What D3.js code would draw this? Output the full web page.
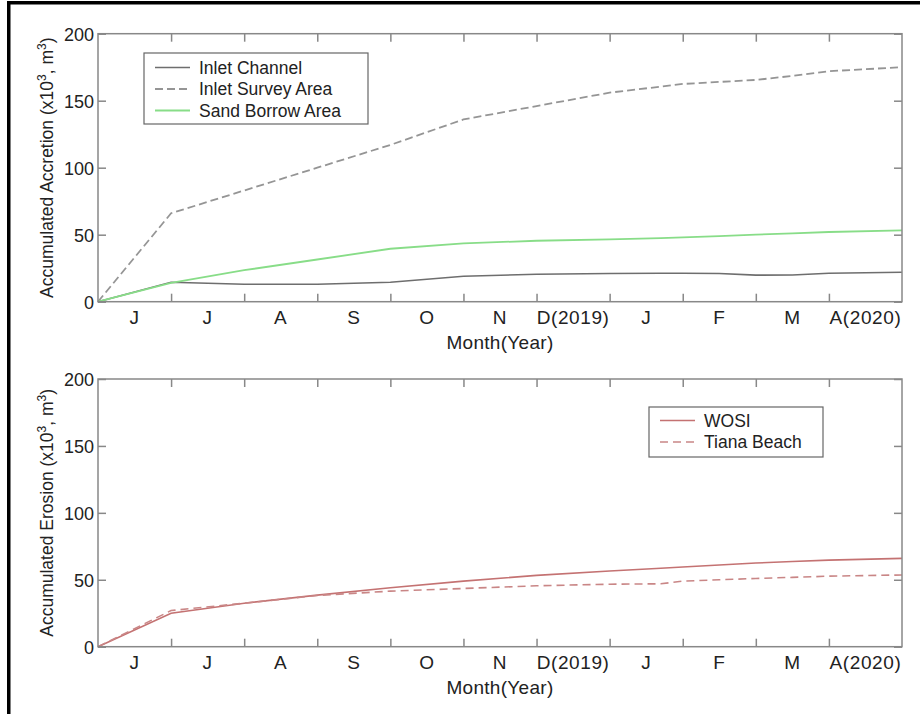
<!DOCTYPE html>
<html>
<head>
<meta charset="utf-8">
<script src="https://cdnjs.cloudflare.com/ajax/libs/d3/7.8.5/d3.min.js"></script>
<style>
body { margin: 0; background: #fff; }
text { font-family: "Liberation Sans", Arial, sans-serif; fill: #222; }
</style>
</head>
<body>
<div id="chart"></div>
<script>
// month labels (centred in each month), tick marks sit on month boundaries
var monthLabels = ["J", "J", "A", "S", "O", "N", "D(2019)", "J", "F", "M", "A(2020)"];
var yTicks = [0, 50, 100, 150, 200];

// survey times, in months since start of June 2019
var surveyT = [0, 1, 2, 3, 4, 5, 6, 7, 7.7, 8, 8.5, 9, 9.5, 10, 11];

// accretion (x10^3 m^3)
var inletChannel = [0, 14.5, 13, 13, 14.5, 19, 20.5, 21, 21.2, 21.2, 21, 19.8, 19.9, 21.2, 22];
var inletSurvey  = [0, 66, 83, 100, 117, 136, 146, 156, 160.5, 162.5, 164, 165.5, 168.5, 172, 175];
var sandBorrow   = [0, 14, 23.5, 31.5, 39.5, 43.5, 45.5, 46.5, 47.5, 48, 49, 50, 51, 52, 53.3];

// erosion (x10^3 m^3)
var wosi        = [0, 25, 32.5, 38.5, 44, 49, 53.3, 56.5, 58.6, 59.5, 61, 62.5, 63.6, 64.7, 66];
var tianaBeach  = [0, 27, 32.5, 38.3, 41.5, 43.5, 45.5, 46.7, 47, 49, 50, 51, 51.8, 52.7, 53.6];

var width = 920, height = 714;

var svg = d3.select("#chart").append("svg")
	.attr("width", width)
	.attr("height", height);

svg.append("rect").attr("width", width).attr("height", height).attr("fill", "#fff");

// frame (top + left only visible)
svg.append("rect").attr("x", 7).attr("y", 1).attr("width", 913).attr("height", 3.5).attr("fill", "#000");
svg.append("rect").attr("x", 7).attr("y", 1).attr("width", 3.5).attr("height", 713).attr("fill", "#000");

var x = d3.scaleLinear().domain([0, 11]).range([98, 902]);

function panel(top, bottom, yLabel, series, legend) {
	var y = d3.scaleLinear().domain([0, 200]).range([bottom, top]);
	var g = svg.append("g");
	var axisColor = "#888";

	var line = d3.line()
		.x(function(d, i) { return x(surveyT[i]); })
		.y(function(d) { return y(d); });

	series.forEach(function(s) {
		g.append("path")
			.datum(s.values)
			.attr("d", line)
			.attr("fill", "none")
			.attr("stroke", s.color)
			.attr("stroke-width", s.width)
			.attr("stroke-dasharray", s.dash);
	});

	// box
	g.append("rect")
		.attr("x", x(0)).attr("y", top)
		.attr("width", x(11) - x(0)).attr("height", bottom - top)
		.attr("fill", "none").attr("stroke", axisColor).attr("stroke-width", 1.5);

	var inner = d3.range(1, 11);
	var bx = g.append("g").attr("transform", "translate(0," + bottom + ")")
		.call(d3.axisBottom(x).tickValues(inner).tickSizeInner(-8).tickSizeOuter(0).tickFormat(""));
	var tx = g.append("g").attr("transform", "translate(0," + top + ")")
		.call(d3.axisTop(x).tickValues(inner).tickSizeInner(-8).tickSizeOuter(0).tickFormat(""));
	var ly = g.append("g").attr("transform", "translate(" + x(0) + ",0)")
		.call(d3.axisLeft(y).tickValues(yTicks).tickSizeInner(-8).tickSizeOuter(0).tickPadding(4));
	var ry = g.append("g").attr("transform", "translate(" + x(11) + ",0)")
		.call(d3.axisRight(y).tickValues(yTicks).tickSizeInner(-8).tickSizeOuter(0).tickFormat(""));

	[bx, tx, ly, ry].forEach(function(a) {
		a.select(".domain").remove();
		a.selectAll("line").attr("stroke", axisColor).attr("stroke-width", 1.5);
	});
	ly.selectAll("text")
		.attr("font-size", 18)
		.attr("font-family", "Liberation Sans, Arial, sans-serif")
		.attr("fill", "#222")
		.attr("dy", "0.36em");

	// month labels in the middle of each month
	g.selectAll("text.month")
		.data(monthLabels)
		.enter()
		.append("text")
		.attr("class", "month")
		.attr("x", function(d, i) { return x(i + 0.5); })
		.attr("y", bottom + 22.5)
		.attr("text-anchor", "middle")
		.attr("font-size", 19)
		.attr("letter-spacing", 0.6)
		.text(function(d) { return d; });

	g.append("text")
		.attr("x", (x(0) + x(11)) / 2)
		.attr("y", bottom + 47)
		.attr("text-anchor", "middle")
		.attr("font-size", 19)
		.attr("letter-spacing", 0.3)
		.text("Month(Year)");

	var yl = g.append("text")
		.attr("transform", "translate(53," + ((top + bottom) / 2) + ") rotate(-90)")
		.attr("text-anchor", "middle")
		.attr("font-size", 17.5);
	yl.append("tspan").text(yLabel + " (x10");
	yl.append("tspan").attr("font-size", 12).attr("dy", -7).text("3");
	yl.append("tspan").attr("dy", 7).text(", m");
	yl.append("tspan").attr("font-size", 12).attr("dy", -7).text("3");
	yl.append("tspan").attr("dy", 7).text(")");

	// legend
	var lg = g.append("g");
	lg.append("rect")
		.attr("x", legend.x).attr("y", legend.y)
		.attr("width", legend.w).attr("height", legend.h)
		.attr("fill", "#fff").attr("stroke", "#666").attr("stroke-width", 1.2);
	series.forEach(function(s, i) {
		var cy = legend.y + legend.first + i * legend.step;
		lg.append("line")
			.attr("x1", legend.x + 11).attr("x2", legend.x + 46)
			.attr("y1", cy).attr("y2", cy)
			.attr("stroke", s.color).attr("stroke-width", s.width)
			.attr("stroke-dasharray", s.dash);
		lg.append("text")
			.attr("x", legend.x + 55).attr("y", cy)
			.attr("dy", "0.36em")
			.attr("font-size", 17.5)
			.text(s.name);
	});
}

panel(33.7, 301.7, "Accumulated Accretion", [
	{name: "Inlet Channel", values: inletChannel, color: "#6e6e6e", width: 1.6, dash: null},
	{name: "Inlet Survey Area", values: inletSurvey, color: "#959595", width: 1.8, dash: "8,4"},
	{name: "Sand Borrow Area", values: sandBorrow, color: "#88dd88", width: 1.8, dash: null}
], {x: 144, y: 53, w: 224, h: 71, first: 14.5, step: 21.5});

panel(379, 646.7, "Accumulated Erosion", [
	{name: "WOSI", values: wosi, color: "#c47272", width: 1.6, dash: null},
	{name: "Tiana Beach", values: tianaBeach, color: "#c98686", width: 1.6, dash: "8,5"}
], {x: 649, y: 407, w: 174, h: 50, first: 13.5, step: 21.5});
</script>
</body>
</html>
